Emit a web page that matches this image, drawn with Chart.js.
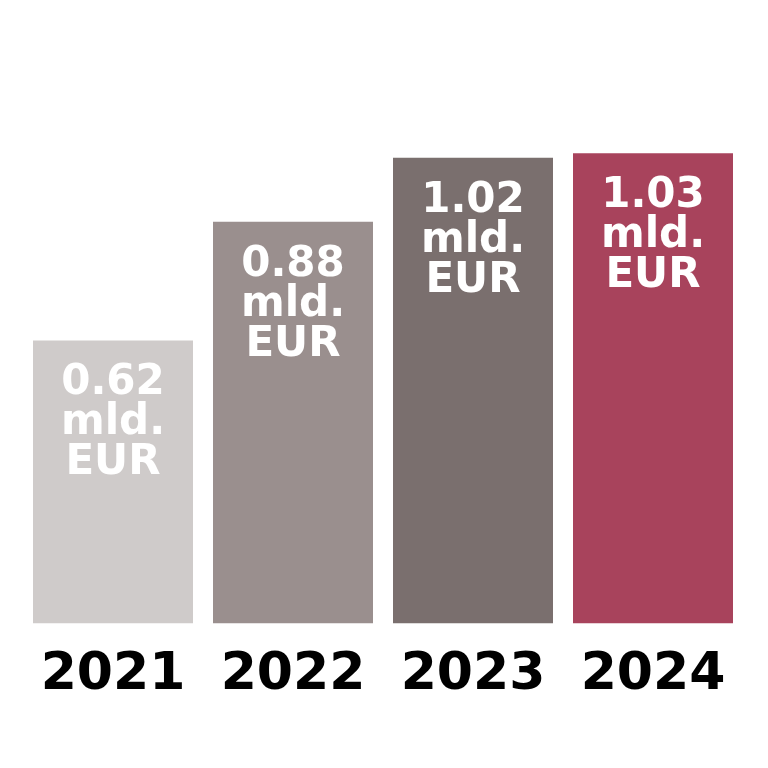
<!DOCTYPE html>
<html lang="en">
<head>
    <meta charset="UTF-8">
    <title>Revenue by year</title>
    <style>
        body {
    margin: 0;
    background-color: #fff;
}

.chart-box {
    width: 768px;
    height: 768px;
}
    </style>
    <script src="https://cdn.jsdelivr.net/npm/chart.js"></script>
</head>
<body>

    <div class="chart-box">
        <canvas id="yearChart" width="768" height="768"></canvas>
    </div>

    <script>
// data
const years = ['2021', '2022', '2023', '2024'];
const values = [0.62, 0.88, 1.02, 1.03];
const unitLines = ['mld.', 'EUR'];
const barColors = ['#cfcbca', '#9a8f8e', '#7a6f6e', '#a8435c'];

// white labels stacked inside each bar
const insideLabels = {
    id: 'insideLabels',
    afterDatasetsDraw(chart) {
        const ctx = chart.ctx;
        const meta = chart.getDatasetMeta(0);
        ctx.save();
        ctx.fillStyle = '#fff';
        ctx.font = 'bold 42px "DejaVu Sans"';
        ctx.textAlign = 'center';
        ctx.textBaseline = 'middle';
        meta.data.forEach((bar, i) => {
            const lines = [values[i].toFixed(2)].concat(unitLines);
            lines.forEach((txt, k) => {
                ctx.fillText(txt, bar.x, bar.y + 43 + k * 40);
            });
        });
        ctx.restore();
    }
};

document.addEventListener("DOMContentLoaded", function () {
    const ctx = document.getElementById('yearChart').getContext('2d');

    new Chart(ctx, {
        type: 'bar',
        data: {
            labels: years,
            datasets: [{
                data: values,
                backgroundColor: barColors,
                borderWidth: 0,
                barPercentage: 160 / 180,
                categoryPercentage: 1
            }]
        },
        options: {
            responsive: false,
            animation: false,
            layout: {
                padding: { left: 23, right: 25, top: 30, bottom: 40 }
            },
            plugins: {
                legend: { display: false },
                tooltip: { enabled: false }
            },
            scales: {
                x: {
                    grid: { display: false, drawTicks: false },
                    border: { display: false },
                    ticks: {
                        color: '#000',
                        padding: 21,
                        font: { family: 'DejaVu Sans', size: 52, weight: 'bold' }
                    }
                },
                y: {
                    display: false,
                    min: 0,
                    max: 1.3
                }
            }
        },
        plugins: [insideLabels]
    });
});
    </script>
</body>
</html>
